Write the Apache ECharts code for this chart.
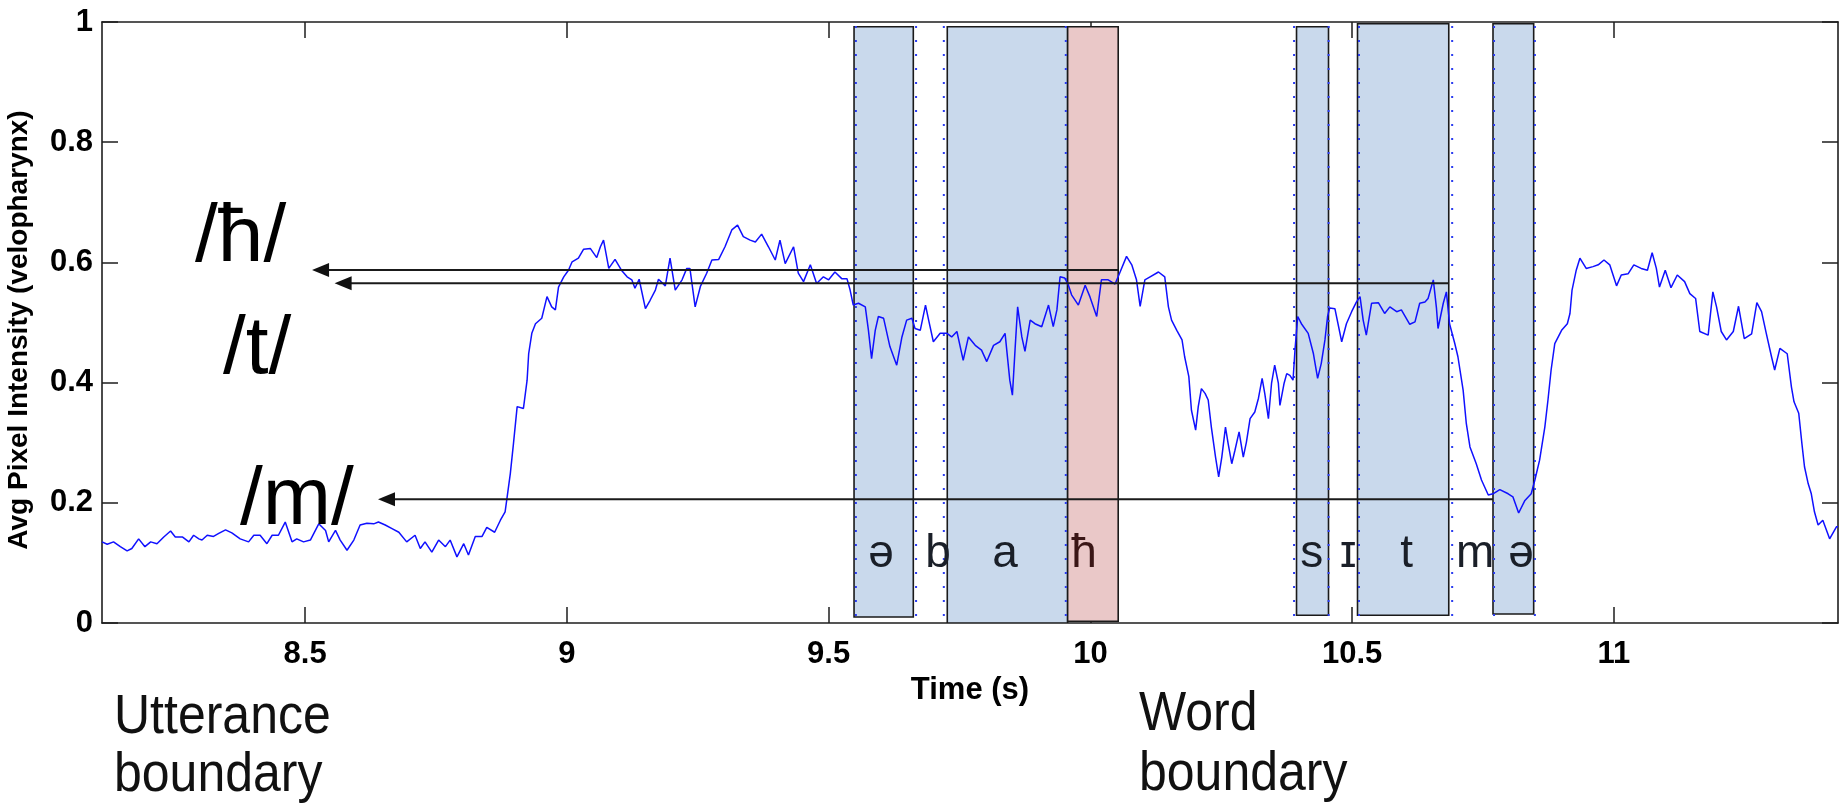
<!DOCTYPE html>
<html><head><meta charset="utf-8">
<script src="https://cdn.jsdelivr.net/npm/echarts@6/dist/echarts.min.js"></script>
<style>html,body{margin:0;padding:0;background:#fff}#c{width:1845px;height:808px}</style>
</head><body><div id="c"></div>
<script>
// ---- data ----
const timeS = [
8.112,8.122,8.134,8.147,8.160,8.169,8.182,8.194,8.205,8.217,8.230,8.243,8.252,8.266,8.278,8.287,8.297,8.303,8.313,8.325,
8.335,8.348,8.360,8.376,8.392,8.402,8.414,8.427,8.437,8.449,8.462,8.475,8.484,8.497,8.510,8.526,8.539,8.545,8.558,8.567,
8.580,8.593,8.605,8.618,8.631,8.640,8.653,8.666,8.679,8.694,8.710,8.720,8.729,8.742,8.755,
8.768,8.777,8.790,8.803,8.812,8.825,8.838,8.847,8.862,8.873,8.882,8.885,8.892,8.898,8.905,8.917,8.924,8.927,8.933,8.940,
8.952,8.962,8.971,8.978,8.984,8.994,9.003,9.010,9.022,9.032,9.045,9.057,9.064,9.070,9.080,9.092,9.105,9.115,9.124,9.130,
9.138,9.150,9.159,9.169,9.175,9.188,9.197,9.207,9.220,9.229,9.235,9.245,9.255,9.267,9.277,9.290,9.302,9.315,9.326,9.337,
9.350,9.360,9.372,9.385,9.398,9.407,9.417,9.433,
9.442,9.452,9.465,9.477,9.490,9.500,9.512,9.525,9.535,9.541,9.547,9.557,9.570,9.576,9.582,9.589,9.595,9.605,9.617,9.630,
9.640,9.649,9.659,9.665,9.675,9.685,9.691,9.700,9.713,9.726,9.735,9.745,9.757,9.767,9.780,9.792,9.802,9.815,9.827,9.837,
9.846,9.851,9.856,9.861,9.869,9.875,9.885,9.894,9.907,9.920,9.929,9.936,9.942,9.951,9.958,9.964,9.977,9.990,9.999,10.012,
10.021,10.034,10.047,10.053,10.069,10.079,10.088,10.095,
10.104,10.114,10.130,10.142,10.149,10.155,10.165,10.175,10.180,10.188,10.193,10.201,10.206,10.212,10.219,10.225,10.231,10.239,10.245,10.251,
10.258,10.263,10.270,10.276,10.284,10.292,10.298,10.305,10.314,10.321,10.328,10.333,10.340,10.346,10.352,10.359,10.362,10.370,10.375,10.381,
10.387,10.391,10.396,10.403,10.416,10.426,10.434,10.441,10.448,10.453,10.457,10.467,10.480,10.489,10.499,10.508,10.515,10.521,10.527,10.537,
10.550,10.562,10.572,10.585,10.594,10.610,10.620,10.629,10.639,10.645,10.655,10.661,10.664,10.674,10.680,10.686,10.696,10.702,10.712,10.718,
10.725,10.737,10.747,10.760,10.769,
10.782,10.798,10.807,10.818,10.830,10.842,10.849,10.858,10.868,10.874,10.880,10.887,10.900,10.911,10.916,10.920,10.928,10.935,10.947,10.960,
10.970,10.981,10.992,11.005,11.014,11.027,11.038,11.052,11.064,11.073,11.081,11.087,11.098,11.109,11.121,11.135,11.145,11.156,11.164,11.180,
11.189,11.196,11.205,11.215,11.228,11.238,11.249,11.263,11.273,11.282,11.291,11.301,11.307,11.317,11.331,11.339,11.344,11.353,11.359,11.364,
11.371,11.377,11.383,11.390,11.399,11.412,11.425,11.428
];
const intensity = [
0.135,0.131,0.135,0.127,0.120,0.124,0.140,0.127,0.135,0.132,0.143,0.153,0.143,0.143,0.135,0.146,0.140,0.138,0.146,0.144,
0.149,0.155,0.150,0.140,0.135,0.146,0.146,0.132,0.146,0.146,0.168,0.135,0.140,0.135,0.138,0.165,0.154,0.135,0.154,0.138,
0.121,0.138,0.163,0.166,0.165,0.168,0.163,0.157,0.151,0.135,0.146,0.124,0.135,0.118,0.138,
0.127,0.138,0.110,0.132,0.113,0.144,0.144,0.159,0.151,0.171,0.185,0.204,0.249,0.299,0.360,0.357,0.404,0.448,0.482,0.498,
0.507,0.543,0.526,0.521,0.559,0.576,0.587,0.601,0.607,0.622,0.623,0.608,0.626,0.637,0.590,0.605,0.586,0.576,0.571,0.557,
0.572,0.523,0.537,0.554,0.572,0.561,0.607,0.554,0.571,0.590,0.590,0.526,0.560,0.582,0.604,0.605,0.626,0.654,0.662,0.643,
0.637,0.634,0.647,0.626,0.604,0.637,0.598,0.626,
0.582,0.568,0.596,0.565,0.576,0.571,0.584,0.573,0.573,0.554,0.529,0.532,0.526,0.487,0.440,0.487,0.510,0.507,0.460,0.429,
0.476,0.504,0.507,0.490,0.487,0.529,0.504,0.468,0.482,0.482,0.476,0.485,0.437,0.476,0.462,0.454,0.435,0.462,0.468,0.482,
0.404,0.379,0.454,0.526,0.476,0.452,0.504,0.498,0.493,0.529,0.493,0.521,0.576,0.574,0.562,0.546,0.529,0.562,0.543,0.510,
0.571,0.571,0.564,0.576,0.610,0.596,0.571,0.527,
0.571,0.576,0.584,0.576,0.526,0.504,0.487,0.471,0.443,0.410,0.354,0.321,0.360,0.390,0.382,0.371,0.326,0.276,0.243,0.276,
0.326,0.299,0.265,0.287,0.318,0.276,0.301,0.340,0.351,0.374,0.407,0.382,0.340,0.399,0.429,0.399,0.362,0.399,0.415,0.412,
0.404,0.457,0.510,0.498,0.482,0.448,0.407,0.432,0.471,0.510,0.524,0.523,0.468,0.498,0.518,0.534,0.543,0.504,0.479,0.532,
0.533,0.515,0.526,0.518,0.521,0.497,0.501,0.532,0.534,0.540,0.571,0.524,0.490,0.532,0.551,0.498,0.465,0.443,0.387,0.332,
0.293,0.265,0.238,0.213,0.215,
0.222,0.215,0.210,0.183,0.204,0.215,0.238,0.271,0.326,0.371,0.421,0.465,0.487,0.498,0.515,0.554,0.587,0.607,0.590,0.593,
0.596,0.604,0.596,0.561,0.579,0.581,0.596,0.590,0.587,0.616,0.590,0.559,0.587,0.558,0.579,0.568,0.548,0.540,0.485,0.479,
0.551,0.526,0.485,0.471,0.485,0.527,0.473,0.481,0.533,0.518,0.482,0.443,0.421,0.457,0.448,0.393,0.368,0.349,0.299,0.260,
0.232,0.215,0.185,0.163,0.171,0.140,0.160,0.160
];
const xTickValues = [8.5, 9, 9.5, 10, 10.5, 11];
const xTickLabels = ['8.5', '9', '9.5', '10', '10.5', '11'];
const yTickLabels = ['0', '0.2', '0.4', '0.6', '0.8', '1'];

// labelled segments (shaded boxes)
const segStart  = [9.5485, 9.7266, 9.9565, 10.3937, 10.5102, 10.769];
const segEnd    = [9.6617, 9.9565, 10.0531, 10.4548, 10.6845, 10.8467];
const segBottom = [0.010, 0.000, 0.003, 0.013, 0.013, 0.015];
const segTop    = [0.992, 0.992, 0.992, 0.992, 0.997, 0.997];
const segHighlight = [false, false, true, false, false, false];

// dotted segment boundaries
const boundaryTimes = [9.552, 9.667, 9.720, 9.953, 10.389, 10.455, 10.513, 10.691, 10.771, 10.849];

// phoneme labels
const phonemes     = ['ə', 'b', 'a', 'ħ', 's', 'ɪ', 't', 'm', 'ə'];
const phonemeTimes = [9.600, 9.709, 9.837, 9.988, 10.423, 10.4925, 10.604, 10.735, 10.8228];
const phonemeLevel = [0.115, 0.115, 0.115, 0.115, 0.115, 0.115, 0.115, 0.115, 0.115];

// reference arrows
const arrowLabels = ['/ħ/', '/t/', '/m/'];
const arrowLevel  = [0.5872, 0.5655, 0.2058];
const arrowFrom   = [10.0531, 10.6845, 10.769];
const arrowTip    = [8.5132, 8.5563, 8.6392];

// ---- chart ----
const FONT = '"Liberation Sans", Arial, Helvetica, sans-serif';
const AX = '#1e1e1e';
const BLUE_FILL = '#c9d9ec';
const RED_FILL = '#eac8c8';
const chart = echarts.init(document.getElementById('c'), null, {renderer: 'canvas'});

const xAxisBase = {
  type: 'value', min: 8.112, max: 11.428,
  axisLine: {show: true, onZero: false, lineStyle: {color: AX, width: 1.6}},
  axisTick: {show: true, inside: true, length: 16, customValues: xTickValues, lineStyle: {color: AX, width: 1.5}},
  splitLine: {show: false}
};
const yAxisBase = {
  type: 'value', min: 0, max: 1, interval: 0.2,
  axisLine: {show: true, onZero: false, lineStyle: {color: AX, width: 1.6}},
  axisTick: {show: true, inside: true, length: 16, lineStyle: {color: AX, width: 1.5}},
  splitLine: {show: false}
};

chart.setOption({
  animation: false,
  backgroundColor: '#ffffff',
  grid: {left: 102, right: 7, top: 22, bottom: 185, containLabel: false, outerBoundsMode: 'none'},
  xAxis: [
    Object.assign({}, xAxisBase, {
      position: 'bottom',
      name: 'Time (s)', nameLocation: 'middle', nameGap: 47,
      nameTextStyle: {fontFamily: FONT, fontWeight: 'bold', fontSize: 31, color: '#000'},
      axisLabel: {show: true, customValues: xTickValues, margin: 16,
        formatter: v => xTickLabels[xTickValues.indexOf(+v.toFixed(2))] ?? String(v),
        fontFamily: FONT, fontWeight: 'bold', fontSize: 31, color: '#000'}
    }),
    Object.assign({}, xAxisBase, {position: 'top', axisLabel: {show: false}})
  ],
  yAxis: [
    Object.assign({}, yAxisBase, {
      position: 'left',
      name: 'Avg Pixel Intensity (velopharynx)', nameLocation: 'middle', nameGap: 69, nameRotate: 90,
      nameTextStyle: {fontFamily: FONT, fontWeight: 'bold', fontSize: 28, color: '#000', padding: [0, 15, 0, 0]},
      axisLabel: {show: true, margin: 9, formatter: (v, i) => yTickLabels[i],
        fontFamily: FONT, fontWeight: 'bold', fontSize: 31, color: '#000'}
    }),
    Object.assign({}, yAxisBase, {position: 'right', axisLabel: {show: false}})
  ],
  series: [
    { // shaded segments
      type: 'custom', z: 1, clip: true, silent: true,
      data: segStart.map((s, i) => [s, segEnd[i], segBottom[i], segTop[i], i]),
      encode: {x: [0, 1], y: [2, 3]},
      renderItem: (params, api) => {
        const a = api.coord([api.value(0), api.value(3)]);
        const b = api.coord([api.value(1), api.value(2)]);
        const i = api.value(4);
        return {type: 'rect',
          shape: {x: a[0], y: a[1], width: b[0] - a[0], height: b[1] - a[1]},
          style: {fill: segHighlight[i] ? RED_FILL : BLUE_FILL, stroke: '#1a1a1a', lineWidth: 1.6}};
      }
    },
    { // dotted boundaries
      type: 'custom', z: 2, clip: true, silent: true,
      data: boundaryTimes.map(t => [t, 0, 1]),
      encode: {x: 0, y: [1, 2]},
      renderItem: (params, api) => {
        const a = api.coord([api.value(0), 1]);
        const b = api.coord([api.value(0), 0]);
        return {type: 'line', shape: {x1: a[0], y1: a[1] + 4, x2: b[0], y2: b[1]},
          style: {stroke: '#2b3cf0', lineWidth: 2, lineDash: [2, 12]}};
      }
    },
    { // intensity trace
      type: 'line', z: 3, silent: true,
      data: timeS.map((t, i) => [t, intensity[i]]),
      showSymbol: false, symbol: 'none',
      lineStyle: {color: '#1010ff', width: 1.5}
    },
    { // arrows
      type: 'custom', z: 4, clip: false, silent: true,
      data: arrowLevel.map((y, i) => [arrowFrom[i], arrowTip[i], y]),
      encode: {x: [0, 1], y: 2},
      renderItem: (params, api) => {
        const p0 = api.coord([api.value(0), api.value(2)]);
        const p1 = api.coord([api.value(1), api.value(2)]);
        const L = 17, H = 7;
        return {type: 'group', children: [
          {type: 'line', shape: {x1: p0[0], y1: p0[1], x2: p1[0] + L - 1, y2: p1[1]},
            style: {stroke: '#1a1a1a', lineWidth: 2}},
          {type: 'polygon', shape: {points: [[p1[0], p1[1]], [p1[0] + L, p1[1] - H], [p1[0] + L, p1[1] + H]]},
            style: {fill: '#111'}}
        ]};
      }
    },
    { // phoneme labels
      type: 'custom', z: 5, clip: false, silent: true,
      data: phonemeTimes.map((t, i) => [t, phonemeLevel[i], i]),
      encode: {x: 0, y: 1},
      renderItem: (params, api) => {
        const p = api.coord([api.value(0), api.value(1)]);
        const i = api.value(2);
        return {type: 'text', x: p[0], y: p[1],
          style: {text: phonemes[i], fontSize: 46, fontFamily: FONT,
            fill: phonemes[i] === 'ħ' ? '#3a1616' : '#1a1f28', align: 'center', verticalAlign: 'middle'}};
      }
    }
  ],
  graphic: [
    ...arrowLabels.map((s, i) => ({
      type: 'text', x: [195, 223, 240][i], y: [238, 350, 501][i], z: 10,
      style: {text: s, fontSize: 82, fontFamily: FONT, fill: '#000', align: 'left', verticalAlign: 'middle'}
    })),
    {type: 'text', x: 114, y: 718, scaleY: 1.1, style: {text: 'Utterance', fontSize: 50, fontFamily: FONT, fill: '#111', verticalAlign: 'middle'}},
    {type: 'text', x: 114, y: 776, scaleY: 1.1, style: {text: 'boundary', fontSize: 50, fontFamily: FONT, fill: '#111', verticalAlign: 'middle'}},
    {type: 'text', x: 1139, y: 715, scaleY: 1.1, style: {text: 'Word', fontSize: 50, fontFamily: FONT, fill: '#111', verticalAlign: 'middle'}},
    {type: 'text', x: 1139, y: 775, scaleY: 1.1, style: {text: 'boundary', fontSize: 50, fontFamily: FONT, fill: '#111', verticalAlign: 'middle'}}
  ]
});
</script>
</body></html>
